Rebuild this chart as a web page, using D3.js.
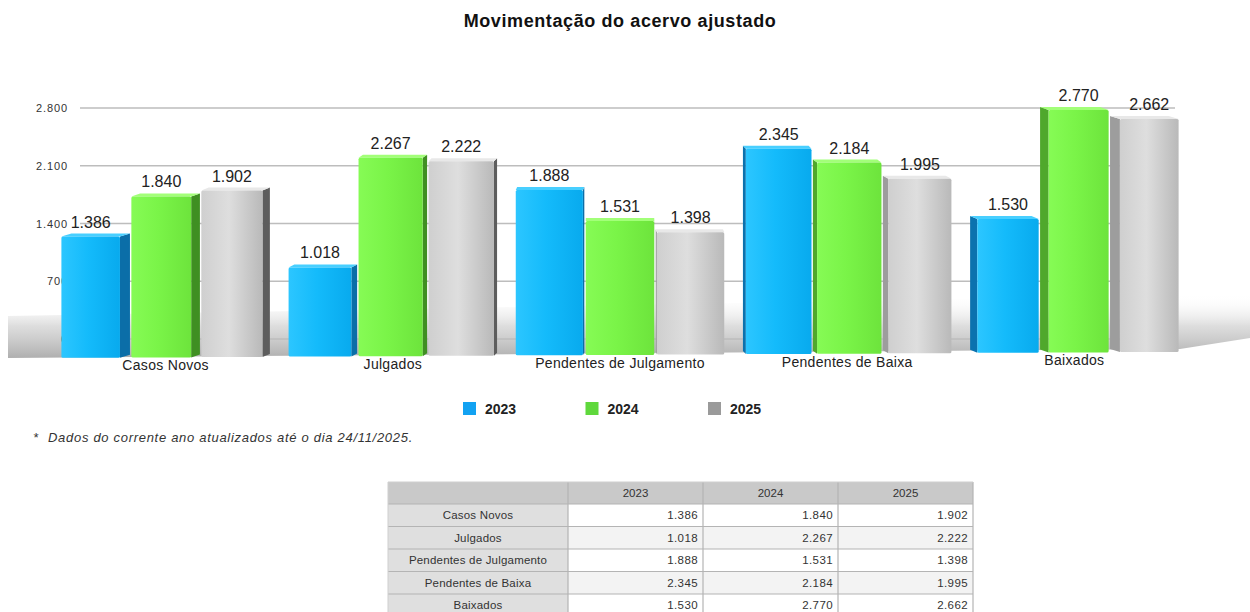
<!DOCTYPE html>
<html>
<head>
<meta charset="utf-8">
<script src="https://cdn.jsdelivr.net/npm/d3@7"></script>
<style>
  body { margin: 0; background: #fff; }
  svg { display: block; font-family: "Liberation Sans", Arial, sans-serif; }
</style>
</head>
<body>
<div id="chart"></div>
<script>
// data
var categories = ["Casos Novos", "Julgados", "Pendentes de Julgamento", "Pendentes de Baixa", "Baixados"];
var years = ["2023", "2024", "2025"];
var v2023 = [1386, 1018, 1888, 2345, 1530];
var v2024 = [1840, 2267, 1531, 2184, 2770];
var v2025 = [1902, 2222, 1398, 1995, 2662];
var yTicks = [0, 700, 1400, 2100, 2800];

var series = { "2023": v2023, "2024": v2024, "2025": v2025 };

var width = 1250, height = 612;

var fmt = d3.formatLocale({ decimal: ",", thousands: ".", grouping: [3], currency: ["R$", ""] }).format(",d");

// colours per year: front gradient (left, mid, right), side (left groups / right groups), top, legend
var pal = {
  "2023": { f: ["#2cc6ff", "#14bbfb", "#08aaee"], side: "#0b6ea8", side2: "#0b72ae", top: "#48cfff", leg: "#12a2f2" },
  "2024": { f: ["#86fb55", "#7af448", "#6de43c"], side: "#3f8f22", side2: "#4fa82c", top: "#a2ff78", leg: "#5fd83c" },
  "2025": { f: ["#cfcfcf", "#dedede", "#b9b9b9"], side: "#5d5d5d", side2: "#9d9d9d", top: "#e8e8e8", leg: "#9a9a9a" }
};

var svg = d3.select("#chart").append("svg")
  .attr("width", width)
  .attr("height", height);

var defs = svg.append("defs");
years.forEach(function(yr) {
  var g = defs.append("linearGradient").attr("id", "g" + yr)
    .attr("x1", "0").attr("x2", "1").attr("y1", "0").attr("y2", "0");
  g.append("stop").attr("offset", "0%").attr("stop-color", pal[yr].f[0]);
  g.append("stop").attr("offset", "45%").attr("stop-color", pal[yr].f[1]);
  g.append("stop").attr("offset", "100%").attr("stop-color", pal[yr].f[2]);
});
var fg = defs.append("linearGradient").attr("id", "floor")
  .attr("x1", "0").attr("x2", "0").attr("y1", "0").attr("y2", "1");
fg.append("stop").attr("offset", "0%").attr("stop-color", "#ffffff").attr("stop-opacity", 0);
fg.append("stop").attr("offset", "50%").attr("stop-color", "#d2d2d2").attr("stop-opacity", 0.75);
fg.append("stop").attr("offset", "100%").attr("stop-color", "#afafaf");

// title
svg.append("text")
  .attr("x", 620).attr("y", 27)
  .attr("text-anchor", "middle")
  .style("font-size", "18px").style("font-weight", "bold").style("fill", "#111")
  .style("letter-spacing", "0.6px")
  .text("Movimentação do acervo ajustado");

// floor shadow
svg.append("path")
  .attr("d", "M8,358 L1180,349 L1250,338 L1250,294 L8,316 Z")
  .style("fill", "url(#floor)");

// back wall scale + gridlines
var yWall = d3.scaleLinear().domain([0, 2800]).range([339, 108]);

svg.append("g").selectAll("line")
  .data(yTicks)
  .enter().append("line")
  .attr("x1", 80).attr("x2", 1175)
  .attr("y1", function(d) { return yWall(d); })
  .attr("y2", function(d) { return yWall(d); })
  .style("stroke", "#bdbdbd").style("stroke-width", 1.6);

svg.append("g").selectAll("text")
  .data(yTicks)
  .enter().append("text")
  .attr("x", 68)
  .attr("y", function(d) { return yWall(d) + 4; })
  .attr("text-anchor", "end")
  .style("font-size", "11px").style("fill", "#333").style("letter-spacing", "0.9px")
  .text(function(d) { return fmt(d); });

// bars
var x0 = d3.scaleBand().domain(categories).range([60, 1180]).paddingInner(0.07);
var x1 = d3.scaleBand().domain(years).range([0, x0.bandwidth()]).padding(0.02);
var hBar = d3.scaleLinear().domain([0, 2800]).range([0, 245]);
var midX = 625;

function baseY(cx) { return 358 - (cx - 60) * 0.0055; }

var bars = [];
categories.forEach(function(c, i) {
  years.forEach(function(yr) {
    bars.push({ cat: c, yr: yr, v: series[yr][i] });
  });
});

bars.forEach(function(b) {
  var xa = x0(b.cat) + x1(b.yr);
  var xb = xa + x1.bandwidth();
  var cx = (xa + xb) / 2;
  var d = Math.min(10, Math.abs(cx - midX) * 0.019);
  var dy = 3;
  var bottom = baseY(cx);
  var top = bottom - hBar(b.v);
  var fa, fb, side, topFace;
  if (cx < midX) {
    fa = xa; fb = xb - d;
    side = [[fb, top], [xb, top - dy], [xb, bottom - dy], [fb, bottom]];
    topFace = [[fa, top], [fb, top], [xb, top - dy], [fa + d, top - dy]];
    b.sc = pal[b.yr].side;
  } else {
    fa = xa + d; fb = xb;
    side = [[xa, top - dy], [fa, top], [fa, bottom], [xa, bottom - dy]];
    topFace = [[xa, top - dy], [fb - d, top - dy], [fb, top], [fa, top]];
    b.sc = pal[b.yr].side2;
  }
  b.fa = fa; b.fb = fb; b.top = top; b.side = side; b.topFace = topFace;
});

var gBars = svg.append("g");
gBars.selectAll("path.side")
  .data(bars)
  .enter().append("path")
  .attr("class", "side")
  .attr("d", function(b) { return d3.line()(b.side) + "Z"; })
  .style("fill", function(b) { return b.sc; });

gBars.selectAll("path.topf")
  .data(bars)
  .enter().append("path")
  .attr("class", "topf")
  .attr("d", function(b) { return d3.line()(b.topFace) + "Z"; })
  .style("fill", function(b) { return pal[b.yr].top; });

gBars.selectAll("rect")
  .data(bars)
  .enter().append("rect")
  .attr("x", function(b) { return b.fa; })
  .attr("width", function(b) { return b.fb - b.fa; })
  .attr("y", function(b) { return b.top; })
  .attr("height", function(b) { return hBar(b.v); })
  .attr("rx", 1.5)
  .style("fill", function(b) { return "url(#g" + b.yr + ")"; });

// value labels
svg.append("g").selectAll("text")
  .data(bars)
  .enter().append("text")
  .attr("x", function(b) { return (b.fa + b.fb) / 2; })
  .attr("y", function(b) { return b.top - 9; })
  .attr("text-anchor", "middle")
  .style("font-size", "16px").style("fill", "#222")
  .text(function(b) { return fmt(b.v); });

// category labels
svg.append("g").selectAll("text")
  .data(categories)
  .enter().append("text")
  .attr("x", function(c) { return x0(c) + x0.bandwidth() / 2; })
  .attr("y", function(c) { return baseY(x0(c) + x0.bandwidth() / 2) + 13; })
  .attr("text-anchor", "middle")
  .style("font-size", "14px").style("fill", "#222").style("letter-spacing", "0.3px")
  .text(function(c) { return c; });

// legend
var legX = d3.scalePoint().domain(years).range([463, 708]);
var leg = svg.append("g").selectAll("g")
  .data(years)
  .enter().append("g")
  .attr("transform", function(d) { return "translate(" + legX(d) + ",402)"; });
leg.append("rect").attr("width", 13).attr("height", 13)
  .style("fill", function(d) { return pal[d].leg; });
leg.append("text").attr("x", 22).attr("y", 12)
  .style("font-size", "14px").style("font-weight", "bold").style("fill", "#222")
  .text(function(d) { return d; });

// footnote
svg.append("text")
  .attr("x", 33).attr("y", 442)
  .style("font-size", "13px").style("font-style", "italic").style("fill", "#333")
  .text("*");
svg.append("text")
  .attr("x", 48).attr("y", 442)
  .style("font-size", "13px").style("font-style", "italic").style("fill", "#333")
  .style("letter-spacing", "0.7px")
  .text("Dados do corrente ano atualizados até o dia 24/11/2025.");

// table
var tLeft = 388, tFirst = 180, colW = 135, headH = 22, rowH = 22.5, tTop = 482;
var colX = d3.scaleBand().domain(years).range([tLeft + tFirst, tLeft + tFirst + colW * 3]);
var tab = svg.append("g").style("font-size", "11.5px").style("fill", "#333");

tab.append("rect")
  .attr("x", tLeft).attr("y", tTop)
  .attr("width", tFirst + colW * 3).attr("height", headH)
  .style("fill", "#c9c9c9");
tab.selectAll("text.hd")
  .data(years)
  .enter().append("text")
  .attr("class", "hd")
  .attr("x", function(d) { return colX(d) + colW / 2; })
  .attr("y", tTop + 15)
  .attr("text-anchor", "middle")
  .text(function(d) { return d; });

var rows = tab.selectAll("g.row")
  .data(categories)
  .enter().append("g")
  .attr("class", "row")
  .attr("transform", function(c, i) { return "translate(0," + (tTop + headH + i * rowH) + ")"; });

rows.append("rect")
  .attr("x", tLeft).attr("width", tFirst).attr("height", rowH)
  .style("fill", "#dfdfdf");
rows.append("rect")
  .attr("x", tLeft + tFirst).attr("width", colW * 3).attr("height", rowH)
  .style("fill", function(c, i) { return i % 2 ? "#f3f3f3" : "#ffffff"; });
rows.append("line")
  .attr("x1", tLeft).attr("x2", tLeft + tFirst + colW * 3)
  .attr("y1", 0).attr("y2", 0)
  .style("stroke", "#b4b4b4").style("stroke-width", 1.2);
rows.append("text")
  .attr("x", tLeft + tFirst / 2).attr("y", 15)
  .attr("text-anchor", "middle")
  .style("letter-spacing", "0.2px")
  .text(function(c) { return c; });

years.forEach(function(yr) {
  rows.append("text")
    .attr("x", colX(yr) + colW - 5).attr("y", 15)
    .attr("text-anchor", "end")
    .style("letter-spacing", "0.4px")
    .text(function(c, i) { return fmt(series[yr][i]); });
});

// vertical cell borders
tab.selectAll("line.v")
  .data([tLeft + tFirst].concat(years.map(function(y) { return colX(y) + colW; })))
  .enter().append("line")
  .attr("class", "v")
  .attr("x1", function(d) { return d; }).attr("x2", function(d) { return d; })
  .attr("y1", tTop).attr("y2", tTop + headH + rowH * 5)
  .style("stroke", "#b4b4b4").style("stroke-width", 1.2);
tab.append("line")
  .attr("x1", tLeft).attr("x2", tLeft)
  .attr("y1", tTop).attr("y2", tTop + headH + rowH * 5)
  .style("stroke", "#cfcfcf");
tab.append("line")
  .attr("x1", tLeft).attr("x2", tLeft + tFirst + colW * 3)
  .attr("y1", tTop).attr("y2", tTop)
  .style("stroke", "#cfcfcf");
</script>
</body>
</html>
